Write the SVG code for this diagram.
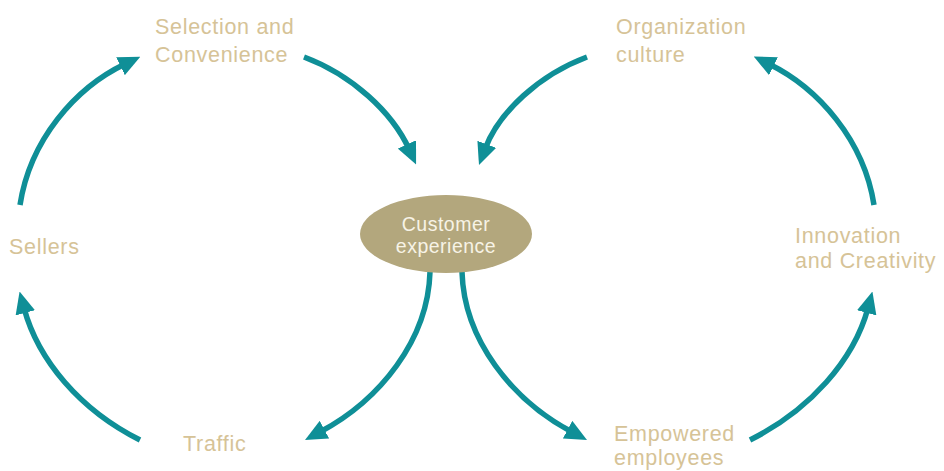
<svg xmlns="http://www.w3.org/2000/svg" width="944" height="471" viewBox="0 0 944 471">
  <style>
    .lbl { font-family: "Liberation Sans", Arial, sans-serif; font-size: 21.5px; letter-spacing: 0.7px; fill: #d6c397; }
    .core { font-family: "Liberation Sans", Arial, sans-serif; font-size: 19.5px; letter-spacing: 0.5px; fill: #f7f3e6; text-anchor: middle; }
    .arc { fill: none; stroke: #0f8f97; stroke-width: 5.5; marker-end: url(#head); }
  </style>
  <defs>
    <marker id="head" markerUnits="userSpaceOnUse" markerWidth="22" markerHeight="20" viewBox="0 0 22 20" refX="5" refY="10" orient="auto">
      <path d="M0,0 L22,10 L0,20 z" fill="#0f8f97"/>
    </marker>
  </defs>
  <rect width="944" height="471" fill="#ffffff"/>

  <!-- connectors -->
  <g id="connectors">
    <path class="arc" d="M304,57 C352,75 392,112 409,149"/>
    <path class="arc" d="M587,57 C539,75 499,112 485,149"/>
    <path class="arc" d="M20,205 C30,140 75,88 125,64"/>
    <path class="arc" d="M140,440 C80,410 38,360 24,308"/>
    <path class="arc" d="M874,205 C864,140 818,88 769,64"/>
    <path class="arc" d="M750,440 C810,410 854,360 868,308"/>
    <path class="arc" d="M430,272 C428,340 380,400 320,432"/>
    <path class="arc" d="M462,272 C464,340 512,400 572,432"/>
  </g>

  <g id="customer-experience">
    <ellipse cx="446" cy="234" rx="86" ry="39" fill="#b3a77d"/>
    <text class="core" x="446" y="231">Customer</text>
    <text class="core" x="446" y="253">experience</text>
  </g>
  <g id="selection-convenience">
    <text class="lbl" x="155" y="34">Selection and</text>
    <text class="lbl" x="155" y="62">Convenience</text>
  </g>
  <g id="organization-culture">
    <text class="lbl" x="616" y="34">Organization</text>
    <text class="lbl" x="616" y="62">culture</text>
  </g>
  <g id="sellers">
    <text class="lbl" x="9" y="254">Sellers</text>
  </g>
  <g id="innovation-creativity">
    <text class="lbl" x="795" y="243">Innovation</text>
    <text class="lbl" x="795" y="268">and Creativity</text>
  </g>
  <g id="traffic">
    <text class="lbl" x="183" y="451">Traffic</text>
  </g>
  <g id="empowered-employees">
    <text class="lbl" x="614" y="441">Empowered</text>
    <text class="lbl" x="614" y="465">employees</text>
  </g>
</svg>
